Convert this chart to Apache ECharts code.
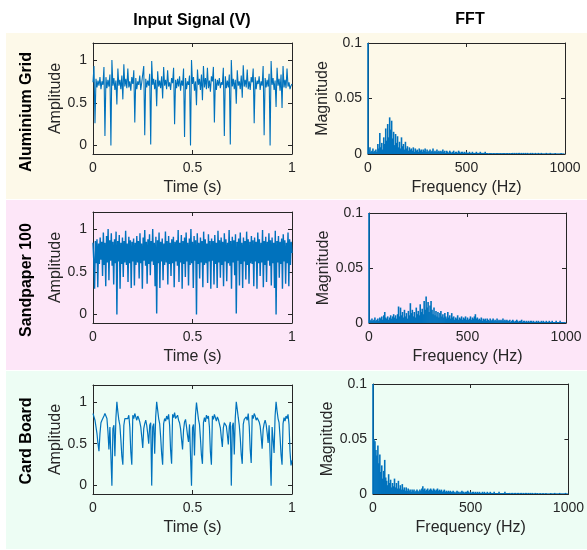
<!DOCTYPE html>
<html><head><meta charset="utf-8">
<script src="https://cdn.jsdelivr.net/npm/echarts@6/dist/echarts.min.js"></script>
<style>html,body{margin:0;padding:0;background:#fff}#c{width:587px;height:550px}</style>
</head><body><div id="c"></div>
<script>
// ---------------- data ----------------
const rowLabels = ['Aluminium Grid', 'Sandpaper 100', 'Card Board'];
const columnTitles = ['Input Signal (V)', 'FFT'];
const timeTicks = [0, 0.5, 1];
const ampTicks = [0, 0.5, 1];
const freqTicks = [0, 500, 1000];
const magTicks = [0, 0.05, 0.1];
const timeAxisName = 'Time (s)';
const ampAxisName = 'Amplitude';
const freqAxisName = 'Frequency (Hz)';
const magAxisName = 'Magnitude';

// sample spacing of each recorded signal (s) and of the spectra (Hz)
const dtAluminium = 0.005;
const dtSandpaper = 0.004;
const dtCard = 0.005;
const freqStep = 5;

const aluminiumSignal = [
0.74,0.93,0.26,0.78,0.68,0.76,0.70,0.80,0.66,0.75,0.71,0.92,0.11,0.80,0.67,0.77,0.69,0.83,0.00,1.00,
0.70,0.79,0.65,0.76,0.48,0.90,0.70,0.77,0.66,0.82,0.54,0.95,0.69,0.78,0.67,0.90,0.68,0.75,0.64,0.80,
0.72,0.88,0.27,0.79,0.66,0.75,0.71,0.82,0.65,0.74,0.72,0.93,0.12,0.78,0.68,0.76,0.70,0.84,0.01,0.99,
0.71,0.78,0.66,0.77,0.46,0.87,0.69,0.76,0.67,0.81,0.55,0.92,0.70,0.77,0.66,0.88,0.69,0.74,0.65,0.79,
0.73,0.91,0.25,0.77,0.67,0.78,0.69,0.81,0.64,0.76,0.70,0.90,0.10,0.79,0.66,0.75,0.71,0.82,0.00,1.00,
0.72,0.80,0.64,0.75,0.47,0.89,0.71,0.78,0.65,0.83,0.53,0.93,0.68,0.79,0.66,0.91,0.67,0.76,0.63,0.81,
0.75,0.92,0.27,0.78,0.65,0.77,0.70,0.79,0.67,0.74,0.71,0.91,0.11,0.81,0.67,0.76,0.68,0.83,0.01,1.00,
0.69,0.78,0.66,0.77,0.49,0.88,0.70,0.75,0.66,0.82,0.56,0.94,0.69,0.77,0.68,0.89,0.66,0.75,0.65,0.80,
0.74,0.90,0.26,0.80,0.66,0.76,0.72,0.81,0.65,0.75,0.70,0.93,0.12,0.79,0.68,0.77,0.69,0.84,0.00,0.99,
0.71,0.79,0.65,0.76,0.45,0.91,0.70,0.78,0.64,0.83,0.44,0.93,0.68,0.77,0.67,0.90,0.69,0.74,0.66,0.70,
0.72
];

const sandpaperSignal = [
0.84,0.62,0.30,0.86,0.60,0.88,0.32,0.83,0.59,0.90,0.64,0.85,0.45,0.96,0.58,0.84,0.33,0.92,0.61,1.00,
0.40,0.87,0.63,0.95,0.57,0.85,0.35,0.88,0.60,0.97,0.00,0.86,0.62,0.93,0.30,0.84,0.59,0.90,0.44,0.86,
0.61,0.98,0.58,0.83,0.38,0.91,0.60,0.87,0.31,0.85,
0.62,0.89,0.34,0.84,0.58,0.92,0.61,0.86,0.42,0.95,0.60,0.83,0.30,0.90,0.63,0.99,0.57,0.85,0.36,0.88,
0.59,0.94,0.46,0.86,0.62,1.00,0.58,0.84,0.33,0.91,0.01,0.87,0.60,0.96,0.31,0.85,0.62,0.89,0.40,0.83,
0.58,0.97,0.61,0.86,0.35,0.92,0.59,0.84,0.45,0.88,
0.60,0.91,0.32,0.85,0.62,0.87,0.57,0.99,0.38,0.84,0.61,0.93,0.30,0.86,0.59,0.90,0.44,0.96,0.62,0.84,
0.34,0.89,0.58,1.00,0.60,0.85,0.31,0.92,0.63,0.87,0.00,0.95,0.59,0.84,0.42,0.90,0.61,0.86,0.32,0.97,
0.58,0.88,0.60,0.83,0.37,0.94,0.62,0.86,0.30,0.89,
0.63,0.86,0.35,0.93,0.59,0.84,0.31,0.98,0.61,0.87,0.43,0.90,0.58,0.85,0.33,0.95,0.62,0.88,0.39,0.84,
0.60,0.99,0.57,0.86,0.30,0.91,0.61,0.87,0.46,0.94,0.01,0.85,0.63,0.89,0.34,0.96,0.59,0.84,0.31,0.90,
0.62,0.86,0.41,0.97,0.58,0.88,0.36,0.85,0.60,0.92,
0.59,0.87,0.33,0.90,0.62,0.85,0.30,0.96,0.60,0.88,0.45,0.84,0.61,0.99,0.32,0.86,0.58,0.91,0.38,0.85,
0.63,0.95,0.57,0.87,0.34,0.90,0.60,0.84,0.31,0.98,0.00,0.86,0.61,0.92,0.43,0.85,0.59,0.89,0.30,0.94,
0.62,0.87,0.36,0.84,0.60,0.96,0.33,0.88,0.58,0.85,
0.72
];

const cardSignal = [
0.86,0.82,0.78,0.70,0.62,0.50,0.41,0.62,0.75,0.78,0.80,0.83,0.86,0.84,0.80,0.65,0.43,0.70,0.72,0.00,
0.68,0.72,0.35,0.80,1.00,0.88,0.78,0.72,0.55,0.35,0.25,0.72,0.80,0.78,0.82,0.80,0.84,0.70,0.40,0.25,
0.84,0.80,0.86,0.82,0.78,0.83,0.80,0.76,0.70,0.58,0.45,0.68,0.74,0.78,0.72,0.62,0.50,0.72,0.75,0.00,
0.70,0.74,0.38,0.82,1.00,0.90,0.80,0.74,0.58,0.38,0.25,0.74,0.80,0.77,0.83,0.79,0.85,0.72,0.42,0.26,
0.85,0.81,0.87,0.80,0.79,0.84,0.78,0.75,0.68,0.55,0.43,0.66,0.76,0.79,0.70,0.60,0.52,0.73,0.74,0.00,
0.69,0.73,0.36,0.84,0.99,0.89,0.79,0.73,0.56,0.36,0.26,0.75,0.81,0.76,0.84,0.80,0.83,0.70,0.40,0.25,
0.83,0.79,0.85,0.81,0.77,0.82,0.79,0.74,0.69,0.57,0.46,0.69,0.75,0.77,0.71,0.61,0.49,0.71,0.76,0.00,
0.71,0.75,0.37,0.81,1.00,0.91,0.81,0.72,0.57,0.37,0.26,0.73,0.79,0.78,0.82,0.78,0.86,0.71,0.43,0.27,
0.84,0.80,0.86,0.83,0.78,0.81,0.80,0.76,0.71,0.59,0.44,0.67,0.74,0.78,0.73,0.63,0.51,0.72,0.74,0.00,
0.70,0.72,0.39,0.83,1.00,0.89,0.80,0.75,0.58,0.37,0.25,0.74,0.81,0.77,0.83,0.80,0.85,0.73,0.41,0.24,
0.30
];

const aluminiumFFT = [
0.72,0.004,0.006,0.002,0.003,0.005,0.002,0.003,0.004,0.002,0.009,0.005,0.019,0.006,0.010,0.004,0.015,0.009,0.023,0.012,
0.027,0.015,0.033,0.022,0.030,0.014,0.020,0.008,0.018,0.010,0.016,0.006,0.011,0.005,0.015,0.007,0.009,0.004,0.011,0.005,
0.007,0.003,0.006,0.004,0.005,0.003,0.006,0.002,0.005,0.003,0.004,0.002,0.005,0.003,0.004,0.002,0.004,0.003,0.005,0.002,
0.004,0.002,0.003,0.004,0.002,0.003,0.005,0.002,0.003,0.002,0.004,0.002,0.003,0.002,0.003,0.002,0.004,0.002,0.003,0.001,
0.003,0.002,0.001,0.003,0.002,0.001,0.002,0.003,0.001,0.002,0.002,0.001,0.003,0.002,0.001,0.002,0.002,0.001,0.002,0.001,
0.002,0.001,0.001,0.002,0.001,0.001,0.002,0.001,0.001,0.001,0.002,0.001,0.001,0.001,0.002,0.001,0.001,0.001,0.001,0.002,
0.001,0.001,0.0005,0.001,0.001,0.001,0.0005,0.001,0.001,0.0005,0.001,0.001,0.001,0.0005,0.001,0.001,0.0005,0.001,0.001,0.001,
0.0005,0.001,0.001,0.0005,0.001,0.0005,0.001,0.001,0.0005,0.001,0.0005,0.001,0.0005,0.001,0.001,0.0005,0.001,0.0005,0.001,0.0005,
0.001,0.0005,0.001,0.0005,0.0005,0.001,0.0005,0.001,0.0005,0.0005,0.001,0.0005,0.0005,0.001,0.0005,0.0005,0.001,0.0005,0.0005,0.0005,
0.0005,0.001,0.0005,0.0005,0.0005,0.001,0.0005,0.0005,0.0005,0.0005,0.001,0.0005,0.0005,0.0005,0.0005,0.0005,0.001,0.0005,0.0005,0.0005
];

const sandpaperFFT = [
0.72,0.003,0.002,0.004,0.002,0.003,0.005,0.002,0.003,0.004,0.002,0.005,0.004,0.006,0.003,0.007,0.010,0.005,0.004,0.006,
0.003,0.005,0.007,0.004,0.006,0.008,0.005,0.007,0.004,0.008,0.015,0.006,0.014,0.007,0.010,0.005,0.012,0.006,0.009,0.004,
0.011,0.007,0.018,0.009,0.012,0.006,0.010,0.005,0.014,0.008,0.011,0.007,0.017,0.010,0.013,0.008,0.020,0.012,0.024,0.014,
0.019,0.010,0.016,0.020,0.012,0.008,0.014,0.007,0.011,0.006,0.010,0.005,0.009,0.011,0.006,0.008,0.005,0.009,0.006,0.004,
0.010,0.005,0.007,0.004,0.009,0.005,0.006,0.003,0.005,0.004,0.007,0.003,0.005,0.004,0.006,0.003,0.005,0.004,0.006,0.003,
0.005,0.003,0.004,0.006,0.003,0.005,0.004,0.006,0.008,0.004,0.005,0.003,0.004,0.003,0.005,0.002,0.004,0.003,0.004,0.002,
0.004,0.003,0.002,0.004,0.002,0.003,0.004,0.002,0.003,0.002,0.004,0.002,0.003,0.002,0.003,0.002,0.004,0.002,0.003,0.002,
0.003,0.002,0.002,0.003,0.001,0.002,0.003,0.002,0.001,0.002,0.003,0.002,0.001,0.002,0.002,0.003,0.001,0.002,0.002,0.001,
0.002,0.001,0.002,0.001,0.002,0.002,0.001,0.002,0.001,0.001,0.002,0.001,0.002,0.001,0.001,0.002,0.001,0.002,0.001,0.001,
0.002,0.001,0.001,0.002,0.001,0.001,0.002,0.001,0.001,0.001,0.002,0.001,0.001,0.001,0.002,0.001,0.001,0.001,0.001,0.001
];

const cardFFT = [
0.72,0.050,0.048,0.040,0.035,0.044,0.028,0.036,0.020,0.026,0.014,0.021,0.031,0.015,0.012,0.008,0.018,0.010,0.013,0.006,
0.010,0.007,0.014,0.006,0.010,0.005,0.012,0.005,0.008,0.004,0.009,0.004,0.006,0.003,0.006,0.003,0.005,0.003,0.004,0.002,
0.004,0.003,0.004,0.002,0.003,0.004,0.003,0.002,0.004,0.003,0.005,0.007,0.004,0.005,0.003,0.004,0.005,0.003,0.004,0.005,
0.004,0.003,0.005,0.004,0.003,0.004,0.005,0.003,0.004,0.003,0.004,0.002,0.003,0.004,0.002,0.003,0.002,0.003,0.002,0.003,
0.002,0.002,0.003,0.002,0.001,0.002,0.003,0.002,0.002,0.001,0.002,0.003,0.002,0.002,0.001,0.002,0.002,0.003,0.002,0.001,
0.002,0.001,0.002,0.002,0.001,0.002,0.001,0.002,0.001,0.002,0.001,0.001,0.002,0.001,0.002,0.001,0.001,0.002,0.001,0.001,
0.002,0.001,0.001,0.001,0.002,0.001,0.001,0.001,0.001,0.002,0.001,0.001,0.001,0.001,0.001,0.002,0.001,0.001,0.001,0.001,
0.001,0.0005,0.001,0.001,0.0005,0.001,0.001,0.0005,0.001,0.001,0.0005,0.001,0.001,0.0005,0.001,0.0005,0.001,0.001,0.0005,0.001,
0.0005,0.001,0.0005,0.001,0.0005,0.0005,0.001,0.0005,0.001,0.0005,0.0005,0.001,0.0005,0.0005,0.001,0.0005,0.0005,0.001,0.0005,0.0005,
0.0005,0.0005,0.001,0.0005,0.0005,0.0005,0.001,0.0005,0.0005,0.0005,0.0005,0.001,0.0005,0.0005,0.0005,0.0005,0.0005,0.001,0.0005,0.0005
];

// ---------------- chart ----------------
const FONT = '"Liberation Sans", Arial, Helvetica, sans-serif';
const AX = '#262626';
const BLUE = '#0072BD';

const signals = [
  { sig: aluminiumSignal, dt: dtAluminium, fft: aluminiumFFT, lw: 1.1 },
  { sig: sandpaperSignal, dt: dtSandpaper, fft: sandpaperFFT, lw: 1.4 },
  { sig: cardSignal, dt: dtCard, fft: cardFFT, lw: 1.2 }
];

const gridBoxes = [
  { left: 93, top: 43, width: 199, height: 111 },
  { left: 368, top: 43, width: 197, height: 111 },
  { left: 93, top: 212, width: 199, height: 111 },
  { left: 369, top: 213, width: 197, height: 110 },
  { left: 93, top: 385, width: 199, height: 109 },
  { left: 373, top: 384, width: 197, height: 110 }
];

const grids = [], xAxes = [], yAxes = [], series = [];

function baseAxis(gi, pos, extra) {
  return Object.assign({
    gridIndex: gi,
    type: 'value',
    position: pos,
    axisLine: { show: true, onZero: false, lineStyle: { color: AX, width: 1 } },
    axisTick: { show: true, inside: true, length: 4, lineStyle: { color: AX, width: 1 } },
    splitLine: { show: false },
    axisLabel: { show: false }
  }, extra);
}

const fmt = (v) => String(v);

gridBoxes.forEach((b, gi) => {
  grids.push(Object.assign({ containLabel: false }, b));
  const isFFT = gi % 2 === 1;
  const row = Math.floor(gi / 2);
  const lab = (m) => ({ show: true, color: AX, fontSize: 14, fontFamily: FONT, margin: m, formatter: fmt });
  const nameStyle = { color: AX, fontSize: 16, fontFamily: FONT };
  if (!isFFT) {
    const xr = { min: timeTicks[0], max: timeTicks[timeTicks.length - 1], interval: timeTicks[1] - timeTicks[0] };
    xAxes.push(baseAxis(gi, 'bottom', Object.assign({}, xr, {
      axisLabel: lab(7), name: timeAxisName, nameLocation: 'middle', nameGap: 26, nameTextStyle: nameStyle
    })));
    xAxes.push(baseAxis(gi, 'top', xr));
    const yr = { min: -0.1, max: 1.2 };
    yAxes.push(baseAxis(gi, 'left', Object.assign({}, yr, {
      axisTick: { show: true, inside: true, length: 4, customValues: ampTicks, lineStyle: { color: AX } },
      axisLabel: Object.assign(lab(6), { customValues: ampTicks }),
      name: ampAxisName, nameLocation: 'middle', nameGap: 28, nameTextStyle: nameStyle
    })));
    yAxes.push(baseAxis(gi, 'right', Object.assign({}, yr, {
      axisTick: { show: true, inside: true, length: 4, customValues: ampTicks, lineStyle: { color: AX } }
    })));
    const s = signals[row];
    series.push({
      type: 'line', xAxisIndex: 2 * gi, yAxisIndex: 2 * gi,
      data: s.sig.map((v, i) => [i * s.dt, v]),
      showSymbol: false, symbol: 'none', clip: true,
      lineStyle: { width: s.lw, color: BLUE }, itemStyle: { color: BLUE }
    });
  } else {
    const xr = { min: freqTicks[0], max: freqTicks[freqTicks.length - 1], interval: freqTicks[1] - freqTicks[0] };
    xAxes.push(baseAxis(gi, 'bottom', Object.assign({}, xr, {
      axisLabel: lab(7), name: freqAxisName, nameLocation: 'middle', nameGap: 26, nameTextStyle: nameStyle
    })));
    xAxes.push(baseAxis(gi, 'top', xr));
    const yr = { min: magTicks[0], max: magTicks[magTicks.length - 1], interval: magTicks[1] - magTicks[0] };
    yAxes.push(baseAxis(gi, 'left', Object.assign({}, yr, {
      axisLabel: lab(6), name: magAxisName, nameLocation: 'middle', nameGap: 37, nameTextStyle: nameStyle
    })));
    yAxes.push(baseAxis(gi, 'right', yr));
    const s = signals[row];
    series.push({
      type: 'bar', xAxisIndex: 2 * gi, yAxisIndex: 2 * gi,
      data: s.fft.map((v, i) => [i * freqStep, v]),
      barWidth: 1.6, clip: true,
      itemStyle: { color: BLUE }
    });
  }
});

const bandColors = ['#fdf9e9', '#fde6f8', '#edfdf4'];
const bands = [
  { y: 33, h: 166 }, { y: 200, h: 170 }, { y: 371, h: 178 }
];
const labelY = [112, 280, 441];

const elements = [];
bands.forEach((b, i) => {
  elements.push({ type: 'rect', z: -10, silent: true, shape: { x: 6, y: b.y, width: 581, height: b.h }, style: { fill: bandColors[i] } });
  elements.push({ type: 'text', z: 10, x: 27, y: labelY[i], rotation: Math.PI / 2,
    style: { text: rowLabels[i], font: 'bold 16px ' + FONT, fill: '#000', align: 'center', verticalAlign: 'middle' } });
});
elements.push({ type: 'text', z: 10, x: 192, y: 21, style: { text: columnTitles[0], font: 'bold 16px ' + FONT, fill: '#000', align: 'center', verticalAlign: 'middle' } });
elements.push({ type: 'text', z: 10, x: 470, y: 20, style: { text: columnTitles[1], font: 'bold 16px ' + FONT, fill: '#000', align: 'center', verticalAlign: 'middle' } });

const chart = echarts.init(document.getElementById('c'), null, { renderer: 'canvas' });
chart.setOption({
  animation: false,
  backgroundColor: '#ffffff',
  textStyle: { fontFamily: FONT },
  graphic: { elements },
  grid: grids,
  xAxis: xAxes,
  yAxis: yAxes,
  series
});
</script>
</body></html>
